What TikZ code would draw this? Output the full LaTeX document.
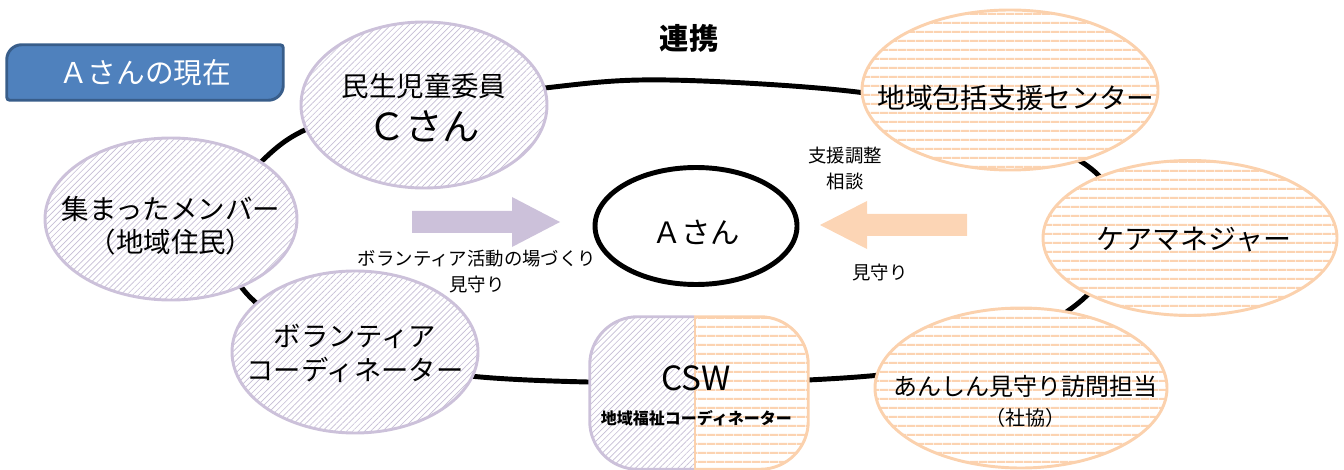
\documentclass[tikz,border=0pt]{standalone}
\usepackage{fontspec}
\setmainfont{Noto Sans CJK JP}
\usetikzlibrary{shapes.geometric,patterns.meta,backgrounds,calc}
\definecolor{pborder}{HTML}{CCC1DA}
\definecolor{phatch}{HTML}{C6BED6}
\definecolor{oborder}{HTML}{FBD1AD}
\definecolor{ohatch}{HTML}{FCD3B1}
\definecolor{parrow}{HTML}{CCC1DA}
\definecolor{oarrow}{HTML}{FCD5B5}
\definecolor{tfill}{HTML}{4F81BD}
\definecolor{tdraw}{HTML}{385D8A}
\newcommand\fsz[2]{\fontsize{#1}{#2}\selectfont}
\pgfdeclarelayer{ringlayer}
\pgfsetlayers{ringlayer,background,main}
\begin{document}
\begin{tikzpicture}[x=0.75pt,y=0.75pt,
  phatchfill/.style={draw=pborder, line width=2.2pt, preaction={fill=white},
    pattern={Lines[angle=45,distance=3.2pt,line width=0.5pt]}, pattern color=phatch},
  ohatchfill/.style={draw=oborder, line width=2.2pt, preaction={fill=white},
    pattern={Lines[angle=0,distance=6.5pt,line width=1.5pt]}, pattern color=ohatch},
  pnode/.style={ellipse, inner sep=0pt, phatchfill},
  onode/.style={ellipse, inner sep=0pt, ohatchfill},
  txt/.style={align=center, text=black, inner sep=0pt},
  smalltxt/.style={align=center, text=black, inner sep=0pt, font=\fsz{13.8pt}{20pt}},
  ring/.style={line width=3.7pt, black},
  titlebox/.style={fill=tfill, draw=tdraw, line width=2.2pt},
  titletxt/.style={text=white, font=\fsz{21.5pt}{24pt}, inner sep=0pt},
  parrowshape/.style={fill=parrow},
  oarrowshape/.style={fill=oarrow}]
\useasboundingbox (0,0) rectangle (1344,-470);

% title
\node[titletxt, minimum width=276*0.75pt, minimum height=55*0.75pt] (title) at (145,-72.5) {Ａさんの現在};
\begin{scope}[on background layer]
\draw[titlebox] ($(title.north west)+(0,-15)$) arc[start angle=180,end angle=90,radius=11.25pt]
  -- ($(title.north east)+(-3,0)$) arc[start angle=90,end angle=0,radius=2.25pt]
  -- ($(title.south east)+(0,15)$) arc[start angle=0,end angle=-90,radius=11.25pt]
  -- ($(title.south west)+(3,0)$) arc[start angle=270,end angle=180,radius=2.25pt]
  -- cycle;
\end{scope}

% heading
\node[txt, font=\bfseries\fsz{22pt}{26pt}] (renkei) at (689,-38) {連携};

% purple nodes
\node[pnode, minimum width=246*0.75pt, minimum height=166*0.75pt,
  label={[txt,font=\fsz{20.6pt}{32.8pt},yshift=-2pt]center:民生児童委員\\{\fsz{28pt}{32.8pt}Ｃさん}}] (minsei) at (424,-105) {};
\node[pnode, minimum width=252*0.75pt, minimum height=162*0.75pt,
  label={[txt,font=\fsz{20.6pt}{25pt},yshift=-5pt]center:集まったメンバー\\（地域住民）}] (shugo) at (171,-219) {};
\node[pnode, minimum width=246*0.75pt, minimum height=162*0.75pt,
  label={[txt,font=\fsz{20.5pt}{26pt},yshift=-1pt]center:ボランティア\\コーディネーター}] (vol) at (355,-352) {};

% orange nodes
\node[onode, minimum width=296*0.75pt, minimum height=160*0.75pt,
  label={[txt,font=\fsz{20.8pt}{24pt},xshift=4.5pt,yshift=-6pt]center:地域包括支援センター}] (houkatsu) at (1010,-90) {};
\node[onode, minimum width=294*0.75pt, minimum height=155*0.75pt,
  label={[txt,font=\fsz{21pt}{24pt},xshift=3pt,yshift=-1.5pt]center:ケアマネジャー}] (kea) at (1190,-238) {};
\node[onode, minimum width=292*0.75pt, minimum height=160*0.75pt,
  label={[txt,font=\fsz{18pt}{22.9pt},xshift=3pt,yshift=-10pt]center:あんしん見守り訪問担当\\{\fsz{15pt}{22.9pt}（社協）}}] (anshin) at (1021,-388) {};

% CSW
\node[inner sep=0pt, minimum width=218*0.75pt, minimum height=152*0.75pt,
  label={[txt,font=\fsz{25pt}{25.4pt},xshift=-2pt,yshift=-2pt]center:CSW\\{\bfseries\fsz{12pt}{25.4pt}地域福祉コーディネーター}}] (csw) at (699,-393) {};
\begin{scope}[on background layer]
  \begin{scope}
    \clip ($(csw.south west)+(-20,-20)$) rectangle ($(csw.north)+(-5,20)$);
    \path[phatchfill, rounded corners=36pt] (csw.south west) rectangle (csw.north east);
  \end{scope}
  \begin{scope}
    \clip ($(csw.south)+(-5,-20)$) rectangle ($(csw.north east)+(20,20)$);
    \path[ohatchfill, rounded corners=36pt] (csw.south west) rectangle (csw.north east);
  \end{scope}
  \draw[draw=oborder, line width=2.2pt] ($(csw.north)+(-4,0)$) -- ($(csw.south)+(-4,0)$);
\end{scope}

% centre
\node[ellipse, draw=black, line width=3.7pt, fill=white, inner sep=0pt,
  minimum width=202*0.75pt, minimum height=117*0.75pt,
  label={[txt,font=\fsz{22pt}{26pt},yshift=-4.5pt]center:Ａさん}] (asan) at (696,-226) {};

% arrows
\fill[parrowshape] (412,-211) -- (512,-211) -- (512,-197) -- (560,-222) -- (512,-247) -- (512,-233) -- (412,-233) -- cycle;
\fill[oarrowshape] (967,-214) -- (867,-214) -- (867,-201) -- (820,-225) -- (867,-249) -- (867,-236) -- (967,-236) -- cycle;

% labels
\node[smalltxt] (lblvol) at (477,-271.5) {ボランティア活動の場づくり\\見守り};
\node[smalltxt] (lblsien) at (845,-168.5) {支援調整\\相談};
\node[smalltxt] (lblmimamori) at (880,-273) {見守り};

% ring
\coordinate (r1) at (668,-80);
\coordinate (r2) at (865,-93);
\coordinate (r3) at (1000,-125);
\coordinate (r4) at (1095,-172);
\coordinate (r5) at (1122,-236);
\coordinate (r6) at (1082,-300);
\coordinate (r7) at (990,-352);
\coordinate (r8) at (880,-375);
\coordinate (r9) at (690,-383);
\coordinate (r10) at (470,-376);
\coordinate (r11) at (330,-345);
\coordinate (r12) at (248,-295);
\coordinate (r13) at (222,-230);
\coordinate (r14) at (263,-160);
\coordinate (r15) at (340,-118);
\coordinate (r16) at (545,-88);
\begin{pgfonlayer}{ringlayer}
\draw[ring] plot[smooth cycle, tension=0.55] coordinates {(r1) (r2) (r3) (r4) (r5) (r6) (r7) (r8) (r9) (r10) (r11) (r12) (r13) (r14) (r15) (r16)};
\end{pgfonlayer}
\end{tikzpicture}
\end{document}
